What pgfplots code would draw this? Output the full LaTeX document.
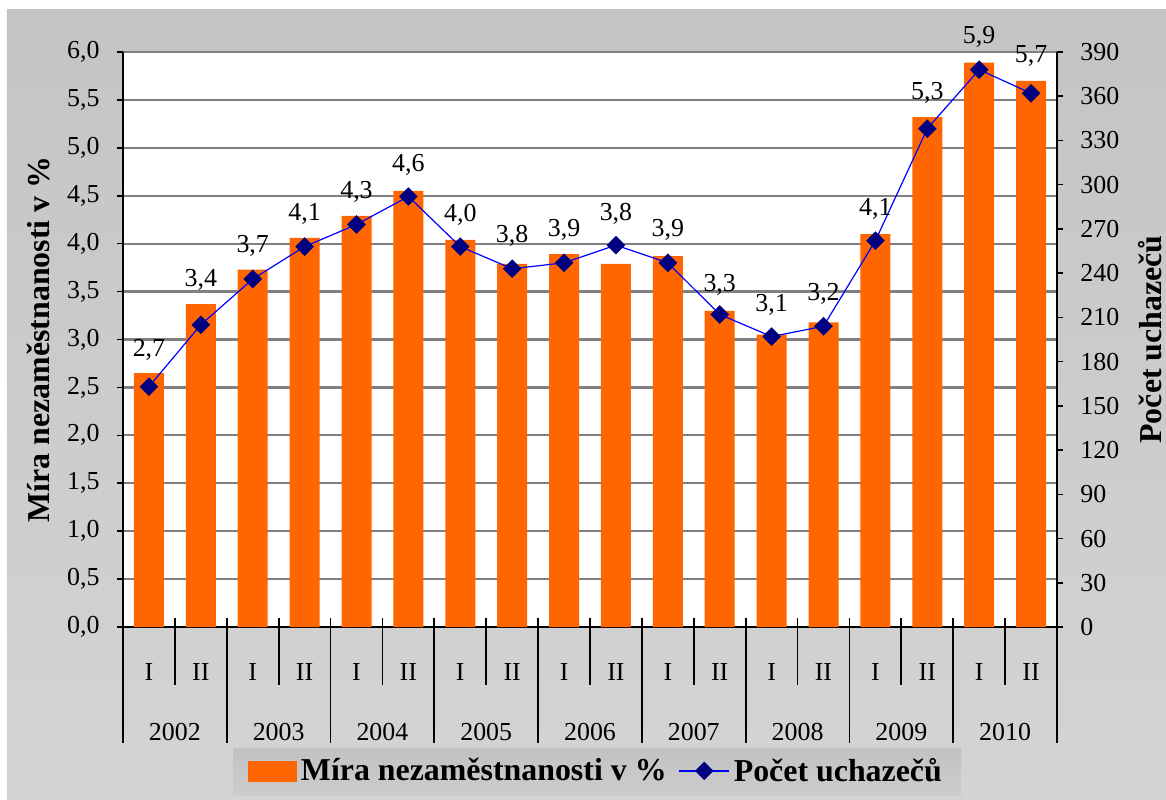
\documentclass[border=0pt]{standalone}
\usepackage{fontspec}
\setmainfont{Liberation Serif}
\usepackage{pgfplots}
\pgfplotsset{compat=1.18}
\usepackage{pgfplotstable}

\definecolor{barorange}{HTML}{FF6600}
\definecolor{lineblue}{HTML}{0000FF}
\definecolor{marknavy}{HTML}{000080}
\definecolor{gridgray}{HTML}{808080}
\definecolor{bgtop}{HTML}{C4C4C4}
\definecolor{bgbot}{HTML}{D4D4D4}
\definecolor{legtop}{HTML}{C2C2C2}
\definecolor{legbot}{HTML}{CCCCCC}

\newcommand\tickfont{\fontsize{13}{15}\selectfont}
\newcommand\ttlfont{\bfseries\fontsize{16}{18}\selectfont}

% unemployment rate (%), half-years 2002 I ... 2010 II
\pgfplotstableread{
x rate
0 2.65
1 3.37
2 3.73
3 4.06
4 4.29
5 4.55
6 4.04
7 3.79
8 3.89
9 3.79
10 3.87
11 3.30
12 3.05
13 3.18
14 4.10
15 5.32
16 5.89
17 5.70
}\ratetab

% number of applicants (right axis)
\pgfplotstableread{
x count
0 163
1 205
2 236
3 258
4 273
5 292
6 258
7 243
8 247
9 259
10 247
11 212
12 197
13 204
14 262
15 338
16 378
17 362
}\counttab

% data labels, placed above bar or marker (right-axis units)
\pgfplotstableread{
x pos lab
0 172 2,7
1 219 3,4
2 242 3,7
3 264 4,1
4 279 4,3
5 297 4,6
6 263 4,0
7 249 3,8
8 253 3,9
9 264 3,8
10 253 3,9
11 216 3,3
12 202 3,1
13 210 3,2
14 267 4,1
15 346 5,3
16 384 5,9
17 371 5,7
}\labtab

\pgfplotsset{
  barlegend/.style={legend image code/.code={\fill[barorange] (0bp,-5bp) rectangle (24bp,5bp);}},
  linelegend/.style={legend image code/.code={
    \draw[lineblue, line width=0.6bp] (0bp,0bp) -- (25bp,0bp);
    \fill[marknavy] (12.5bp,0bp) +(0,4.2bp) -- +(4.2bp,0) -- +(0,-4.2bp) -- +(-4.2bp,0) -- cycle;}},
}

\begin{document}
\begin{tikzpicture}
\useasboundingbox (-61.5bp,-86.5bp) rectangle (521.5bp,313.5bp);
\fill[white] (-61.5bp,-86.5bp) rectangle (521.5bp,313.5bp);
\shade[top color=bgtop,bottom color=bgbot] (-58bp,-86.5bp) rectangle (521.5bp,308.5bp);
\shade[top color=legtop,bottom color=legbot] (55bp,-84bp) rectangle (419bp,-60.5bp);
\fill[white] (0,0) rectangle (467bp,287.5bp);

\begin{axis}[
  at={(0,0)}, anchor=south west,
  scale only axis, width=467bp, height=287.5bp,
  xmin=-0.5, xmax=17.5, ymin=0, ymax=6,
  clip=false,
  axis x line*=bottom, axis y line*=left,
  axis line style={black, line width=0.9bp},
  ybar, bar width=15bp,
  ytick={0,0.5,...,6},
  ymajorgrids, grid style={gridgray, line width=1.1bp},
  tick align=outside, major tick length=3bp,
  ytick style={black, line width=0.8bp},
  xtick style={draw=none},
  tick label style={font=\tickfont},
  /pgf/number format/.cd, use comma, fixed, fixed zerofill, precision=1, assume math mode=true,
  /pgfplots/.cd,
  yticklabel style={anchor=east, inner sep=0pt, xshift=-8.5bp},
  xtick={0.5,2.5,...,16.5},
  xticklabels={
    {\makebox[25.94bp]{I}\makebox[25.94bp]{II}\\[15bp]2002},
    {\makebox[25.94bp]{I}\makebox[25.94bp]{II}\\[15bp]2003},
    {\makebox[25.94bp]{I}\makebox[25.94bp]{II}\\[15bp]2004},
    {\makebox[25.94bp]{I}\makebox[25.94bp]{II}\\[15bp]2005},
    {\makebox[25.94bp]{I}\makebox[25.94bp]{II}\\[15bp]2006},
    {\makebox[25.94bp]{I}\makebox[25.94bp]{II}\\[15bp]2007},
    {\makebox[25.94bp]{I}\makebox[25.94bp]{II}\\[15bp]2008},
    {\makebox[25.94bp]{I}\makebox[25.94bp]{II}\\[15bp]2009},
    {\makebox[25.94bp]{I}\makebox[25.94bp]{II}\\[15bp]2010}},
  xticklabel style={align=center, anchor=north, inner sep=0pt, yshift=-15bp},
  ylabel={Míra nezaměstnanosti v \%},
  ylabel style={font=\ttlfont, at={(axis description cs:-0.091,0.5)}, anchor=center},
]
\addplot[fill=barorange, draw=none] table[x=x, y=rate] {\ratetab};
\pgfplotsinvokeforeach{0.5,2.5,4.5,6.5,8.5,10.5,12.5,14.5,16.5}{
  \draw[black, line width=0.9bp] ([yshift=4.5bp]axis cs:#1,0) -- ([yshift=-29bp]axis cs:#1,0);}
\pgfplotsinvokeforeach{-0.5,1.5,3.5,5.5,7.5,9.5,11.5,13.5,15.5,17.5}{
  \draw[black, line width=0.9bp] ([yshift=4.5bp]axis cs:#1,0) -- ([yshift=-58bp]axis cs:#1,0);}
\end{axis}

\begin{axis}[
  at={(0,0)}, anchor=south west,
  scale only axis, width=467bp, height=287.5bp,
  xmin=-0.5, xmax=17.5, ymin=0, ymax=390,
  clip=false,
  axis x line=none, axis y line*=right,
  axis line style={black, line width=0.9bp},
  ytick={0,30,...,390},
  tick align=outside, major tick length=3bp,
  ytick style={black, line width=0.8bp},
  tick label style={font=\tickfont},
  /pgf/number format/assume math mode=true,
  yticklabel style={anchor=west, inner sep=0pt, xshift=8.5bp},
  ylabel={Počet uchazečů},
  ylabel style={font=\ttlfont, at={(axis description cs:1.0996,0.5)}, anchor=center},
  legend style={at={(axis description cs:0.5075,-0.2504)}, anchor=center,
    draw=none, fill=none, legend columns=2, font=\ttlfont,
    /tikz/every even column/.append style={column sep=4bp}},
  legend cell align=left,
]
\addlegendimage{barlegend}
\addlegendentry{Míra nezaměstnanosti v \%}
\addplot[lineblue, line width=0.6bp, mark=square*, mark size=3bp,
  mark options={rotate=45, fill=marknavy, draw=marknavy}, linelegend]
  table[x=x, y=count] {\counttab};
\addlegendentry{Počet uchazečů}
\addplot[draw=none, mark=none, forget plot, nodes near coords, point meta=explicit symbolic,
  every node near coord/.append style={font=\tickfont, anchor=south, inner sep=0pt, yshift=6.5bp}]
  table[x=x, y=pos, meta=lab] {\labtab};
\end{axis}
\end{tikzpicture}
\end{document}
